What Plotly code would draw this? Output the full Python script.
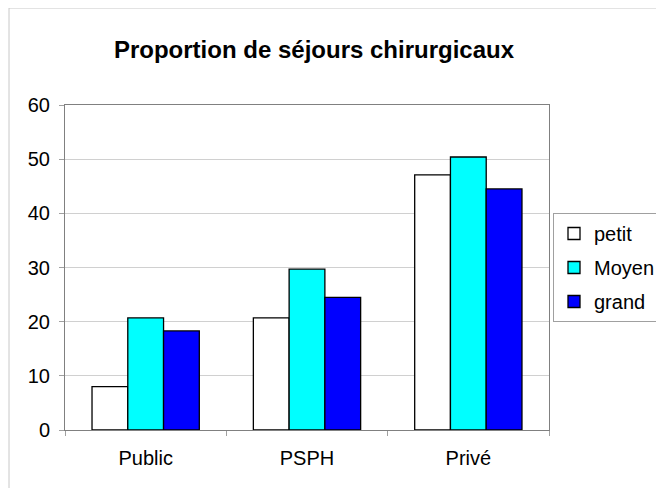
import plotly.graph_objects as go

categories = ["Public", "PSPH", "Privé"]
series_names = ["petit", "Moyen", "grand"]
petit = [8.0, 20.7, 47.1]
moyen = [20.7, 29.7, 50.4]
grand = [18.3, 24.5, 44.5]
y_ticks = [0, 10, 20, 30, 40, 50, 60]

colors = ["#FFFFFF", "#00FFFF", "#0000FF"]
values = [petit, moyen, grand]

fig = go.Figure()
for name, vals, col in zip(series_names, values, colors):
    fig.add_trace(go.Bar(
        x=categories, y=vals, name=name, legendgroup=name,
        marker=dict(color=col, line=dict(color="black", width=1.3)),
    ))

font_family = "Liberation Sans, Arial, sans-serif"
# the page body has an 8px margin; figure is sized to fill the rest of the window
fig.update_layout(
    width=656, height=480,
    margin=dict(l=57, r=115, t=97, b=58, autoexpand=False),
    paper_bgcolor="white", plot_bgcolor="white",
    barmode="group", bargap=0.335, bargroupgap=0,
    font=dict(family=font_family, size=20, color="black"),
    title=dict(text="<b>Proportion de séjours chirurgicaux</b>",
               x=(314 - 8) / 656, xanchor="center", xref="container",
               y=1 - (50 - 8) / 480, yanchor="middle", yref="container",
               font=dict(size=24, family=font_family, color="black")),
    xaxis=dict(showline=True, linecolor="#808080", linewidth=1, mirror=True,
               ticks="outside", ticklen=5, tickcolor="#a0a0a0", tickson="boundaries",
               showgrid=False, tickfont=dict(size=20), automargin=False,
               ticklabelstandoff=10),
    yaxis=dict(range=[0, 60], tickvals=y_ticks, showline=True, linecolor="#808080",
               linewidth=1, mirror=True, ticks="outside", ticklen=5, tickcolor="#a0a0a0",
               showgrid=True, gridcolor="#d0d0d0", gridwidth=1, zeroline=False,
               tickfont=dict(size=20), automargin=False, ticklabelstandoff=5),
    legend=dict(x=(553 - 65) / 484, xanchor="left", y=(430 - 213) / 325, yanchor="top",
                bordercolor="#a0a0a0", borderwidth=1, tracegroupgap=5,
                traceorder="grouped", font=dict(size=20)),
    shapes=[dict(type="rect", xref="paper", yref="paper",
                 x0=(9 - 65) / 484, x1=1.5, y0=-0.5, y1=(430 - 8) / 325,
                 line=dict(color="#c8c8c8", width=1), layer="below")],
)

fig.write_html("out.html")
